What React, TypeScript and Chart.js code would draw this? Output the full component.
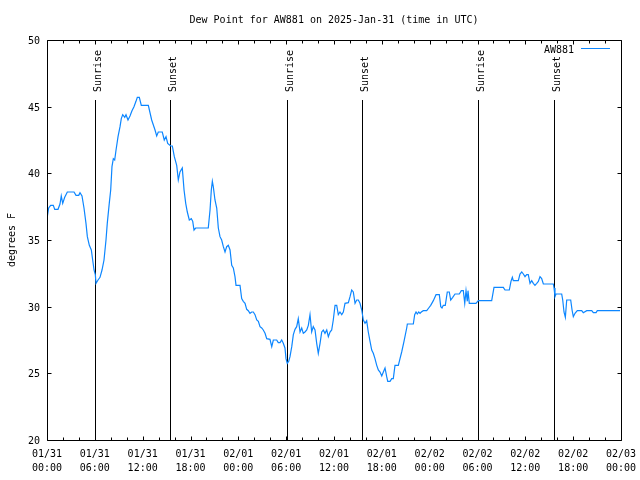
import { useEffect, useRef } from "react";
import { Chart, registerables } from "chart.js";

Chart.register(...registerables);

const TITLE = "Dew Point for AW881 on 2025-Jan-31 (time in UTC)";
const Y_TITLE = "degrees F";
const SERIES_NAME = "AW881";
const LINE_COLOR = "#0c86ff";
const FONT = "10px 'DejaVu Sans Mono', 'Liberation Mono', monospace";

// hours since 2025-01-31 00:00 UTC
const HOURS = [
  0, 0.21, 0.46, 0.79, 0.97, 1.38, 1.63, 1.79, 1.97, 2.22,
  2.38, 2.55, 3.39, 3.64, 3.98, 4.14, 4.39, 4.64, 4.89, 5.06,
  5.31, 5.56, 5.73, 5.9, 6.06, 6.15, 6.4, 6.65, 6.9, 7.15,
  7.4, 7.56, 7.81, 7.99, 8.15, 8.32, 8.49, 8.66, 8.91, 9.16,
  9.32, 9.5, 9.75, 9.91, 10.16, 10.41, 10.66, 10.91, 11.16, 11.33,
  11.58, 11.83, 12.71, 13.13, 13.55, 13.76, 13.96, 14.46, 14.71, 14.93,
  15.14, 15.52, 15.72, 15.97, 16.27, 16.47, 16.68, 16.97, 17.19, 17.4,
  17.6, 17.85, 18.1, 18.28, 18.44, 18.65, 20.23, 20.45, 20.61, 20.74,
  20.86, 21.07, 21.29, 21.49, 21.7, 21.91, 22.12, 22.33, 22.54, 22.74,
  22.96, 23.17, 23.37, 23.58, 23.71, 24.21, 24.42, 24.62, 24.84, 25.05,
  25.25, 25.46, 25.68, 25.88, 26.09, 26.31, 26.51, 26.72, 26.93, 27.13,
  27.35, 27.56, 27.97, 28.19, 28.39, 28.81, 29.01, 29.23, 29.44, 29.64,
  29.85, 29.98, 30.14, 30.32, 30.48, 30.7, 30.9, 31.11, 31.32, 31.52,
  31.74, 31.95, 32.15, 32.36, 32.58, 32.78, 32.99, 33.2, 33.4, 33.62,
  33.83, 34.03, 34.25, 34.46, 34.66, 34.87, 35.09, 35.29, 35.5, 35.71,
  35.91, 36.13, 36.34, 36.54, 36.75, 36.97, 37.17, 37.38, 37.8, 38.01,
  38.22, 38.42, 38.64, 38.85, 39.05, 39.26, 39.48, 39.68, 39.89, 40.1,
  40.3, 40.52, 40.73, 40.93, 41.14, 41.36, 41.56, 41.77, 41.99, 42.19,
  42.4, 42.61, 42.74, 43.03, 43.24, 43.44, 43.65, 44.07, 44.28, 44.49,
  44.78, 45.12, 45.2, 45.95, 46.12, 46.29, 46.45, 46.63, 46.79, 46.95,
  47.2, 47.63, 47.88, 48.13, 48.46, 48.8, 49.21, 49.39, 49.55, 49.71,
  49.96, 50.21, 50.46, 50.64, 50.89, 51.18, 51.72, 51.97, 52.22, 52.4,
  52.56, 52.72, 52.81, 52.97, 53.81, 54.1, 55.78, 56.07, 57.24, 57.45,
  57.99, 58.2, 58.37, 58.49, 59.12, 59.33, 59.55, 59.75, 59.96, 60.17,
  60.37, 60.59, 60.8, 61.0, 61.21, 61.43, 61.63, 61.84, 62.05, 62.26,
  63.51, 63.6, 63.72, 63.85, 64.56, 64.69, 64.85, 65.02, 65.19, 65.69,
  65.86, 66.02, 66.23, 66.52, 67.07, 67.27, 67.7, 68.33, 68.53, 68.87,
  69.03, 71.88,
];

const DEW_POINT = [
  36.6, 37.4, 37.6, 37.6, 37.3, 37.3, 37.7, 38.3, 37.75, 38.2,
  38.4, 38.6, 38.6, 38.35, 38.35, 38.55, 38.3, 37.4, 36.25, 35.25,
  34.6, 34.25, 33.5, 32.75, 32.4, 31.75, 32.0, 32.2, 32.75, 33.5,
  35.0, 36.25, 37.75, 38.75, 40.5, 41.1, 41.0, 41.75, 42.75, 43.5,
  44.1, 44.4, 44.2, 44.4, 44.0, 44.3, 44.7, 45.0, 45.4, 45.7,
  45.7, 45.1, 45.1, 44.0, 43.25, 42.8, 43.1, 43.1, 42.5, 42.75,
  42.25, 42.05, 42.05, 41.25, 40.6, 39.5, 40.1, 40.4, 38.75, 37.75,
  37.1, 36.5, 36.6, 36.4, 35.75, 35.9, 35.9, 37.25, 38.75, 39.4,
  39.0, 38.0, 37.4, 35.9, 35.25, 35.0, 34.5, 34.1, 34.5, 34.6,
  34.25, 33.1, 32.9, 32.25, 31.6, 31.6, 30.6, 30.4, 30.25, 29.8,
  29.7, 29.5, 29.6, 29.6, 29.4, 29.0, 28.9, 28.5, 28.4, 28.25,
  28.0, 27.6, 27.55, 27.0, 27.5, 27.5, 27.3, 27.3, 27.5, 27.25,
  26.9, 26.1, 25.75, 25.9, 26.25, 27.0, 27.9, 28.3, 28.5, 29.1,
  28.1, 28.4, 28.0, 28.1, 28.25, 28.6, 29.4, 28.1, 28.5, 28.25,
  27.25, 26.5, 27.25, 28.1, 28.25, 28.0, 28.25, 27.75, 28.1, 28.25,
  29.0, 30.1, 30.1, 29.4, 29.6, 29.4, 29.6, 30.25, 30.3, 30.75,
  31.25, 31.1, 30.25, 30.5, 30.5, 30.25, 29.75, 29.0, 28.75, 28.95,
  28.1, 27.4, 26.75, 26.5, 26.1, 25.6, 25.25, 25.1, 24.8, 25.1,
  25.4, 24.75, 24.4, 24.4, 24.6, 24.6, 25.6, 25.6, 26.1, 26.6,
  27.4, 28.4, 28.7, 28.7, 29.4, 29.6, 29.45, 29.6, 29.5, 29.6,
  29.7, 29.7, 29.9, 30.1, 30.45, 30.9, 30.9, 30.0, 29.9, 30.1,
  30.1, 31.1, 31.1, 30.5, 30.7, 30.95, 30.95, 31.2, 31.2, 30.25,
  31.2, 30.4, 31.2, 30.25, 30.25, 30.45, 30.45, 31.45, 31.45, 31.25,
  31.25, 31.9, 32.2, 31.95, 31.95, 32.45, 32.6, 32.45, 32.25, 32.4,
  32.4, 31.75, 31.95, 31.75, 31.6, 31.75, 31.9, 32.25, 32.1, 31.7,
  31.7, 31.4, 30.75, 30.95, 30.95, 30.5, 29.6, 29.2, 30.5, 30.5,
  29.75, 29.25, 29.5, 29.7, 29.7, 29.55, 29.7, 29.7, 29.55, 29.55,
  29.7, 29.7,
];

const X_MIN = 0;
const X_MAX = 72;
const Y_MIN = 20;
const Y_MAX = 50;
const X_TICKS = [0, 6, 12, 18, 24, 30, 36, 42, 48, 54, 60, 66, 72];
const X_TICK_LABELS = [
  ["01/31", "00:00"], ["01/31", "06:00"], ["01/31", "12:00"], ["01/31", "18:00"],
  ["02/01", "00:00"], ["02/01", "06:00"], ["02/01", "12:00"], ["02/01", "18:00"],
  ["02/02", "00:00"], ["02/02", "06:00"], ["02/02", "12:00"], ["02/02", "18:00"],
  ["02/03", "00:00"],
];
const X_MINOR_STEP = 2;
const Y_TICKS = [20, 25, 30, 35, 40, 45, 50];

const EVENT_HOURS = [6.05, 15.45, 30.05, 39.5, 54.05, 63.55];
const EVENT_LABELS = ["Sunrise", "Sunset", "Sunrise", "Sunset", "Sunrise", "Sunset"];
const EVENT_TOP = 45.5;

const crisp = (v: number) => Math.round(v) + 0.5;

const gnuplotDecor = {
  id: "gnuplotDecor",
  beforeDatasetsDraw(chart: any) {
    const { ctx, chartArea } = chart;
    const xs = chart.scales.x;
    const ys = chart.scales.y;
    ctx.save();
    ctx.strokeStyle = "#000";
    ctx.lineWidth = 1;
    // event lines
    EVENT_HOURS.forEach((h) => {
      const px = crisp(xs.getPixelForValue(h));
      ctx.beginPath();
      ctx.moveTo(px, ys.getPixelForValue(EVENT_TOP));
      ctx.lineTo(px, ys.getPixelForValue(Y_MIN));
      ctx.stroke();
    });
    ctx.restore();
  },
  afterDraw(chart: any) {
    const { ctx, chartArea } = chart;
    const xs = chart.scales.x;
    const ys = chart.scales.y;
    const L = crisp(chartArea.left);
    const R = crisp(chartArea.right);
    const T = crisp(chartArea.top);
    const B = crisp(chartArea.bottom);
    ctx.save();
    ctx.strokeStyle = "#000";
    ctx.fillStyle = "#000";
    ctx.lineWidth = 1;
    ctx.font = FONT;

    // border
    ctx.beginPath();
    ctx.rect(L, T, R - L, B - T);
    ctx.stroke();

    // x ticks (major + minor), inward on bottom and top
    ctx.beginPath();
    for (let h = X_MIN; h <= X_MAX; h += X_MINOR_STEP) {
      const px = crisp(xs.getPixelForValue(h));
      const len = X_TICKS.includes(h) ? 4 : 3;
      ctx.moveTo(px, B);
      ctx.lineTo(px, B - len);
      ctx.moveTo(px, T);
      ctx.lineTo(px, T + len);
    }
    // y ticks, inward on left and right
    Y_TICKS.forEach((v) => {
      const py = crisp(ys.getPixelForValue(v));
      ctx.moveTo(L, py);
      ctx.lineTo(L + 4, py);
      ctx.moveTo(R, py);
      ctx.lineTo(R - 4, py);
    });
    ctx.stroke();

    // y tick labels
    ctx.textAlign = "right";
    ctx.textBaseline = "alphabetic";
    Y_TICKS.forEach((v) => {
      const py = ys.getPixelForValue(v);
      ctx.fillText(String(v), chartArea.left - 7, py + 4);
    });

    // x tick labels
    ctx.textAlign = "center";
    X_TICKS.forEach((h, i) => {
      const px = xs.getPixelForValue(h);
      const [l1, l2] = X_TICK_LABELS[i];
      ctx.fillText(l1, px, chartArea.bottom + 17);
      ctx.fillText(l2, px, chartArea.bottom + 31);
    });

    // title
    ctx.textAlign = "center";
    ctx.fillText(TITLE, (chartArea.left + chartArea.right) / 2, 23);

    // y axis title
    ctx.save();
    ctx.translate(15, (chartArea.top + chartArea.bottom) / 2);
    ctx.rotate(-Math.PI / 2);
    ctx.textAlign = "center";
    ctx.fillText(Y_TITLE, 0, 0);
    ctx.restore();

    // event labels
    EVENT_HOURS.forEach((h, i) => {
      const px = xs.getPixelForValue(h);
      ctx.save();
      ctx.translate(px + 6, ys.getPixelForValue(EVENT_TOP) - 8);
      ctx.rotate(-Math.PI / 2);
      ctx.textAlign = "left";
      ctx.fillText(EVENT_LABELS[i], 0, 0);
      ctx.restore();
    });

    // legend
    ctx.textAlign = "right";
    ctx.fillText(SERIES_NAME, chartArea.right - 47, chartArea.top + 13);
    ctx.strokeStyle = LINE_COLOR;
    ctx.beginPath();
    ctx.moveTo(chartArea.right - 40, crisp(chartArea.top + 8));
    ctx.lineTo(chartArea.right - 11, crisp(chartArea.top + 8));
    ctx.stroke();

    ctx.restore();
  },
};

export default function App() {
  const canvasRef = useRef<HTMLCanvasElement | null>(null);

  useEffect(() => {
    if (!canvasRef.current) return;
    const data = HOURS.map((h, i) => ({ x: h, y: DEW_POINT[i] }));
    const chart = new Chart(canvasRef.current, {
      type: "line",
      data: {
        datasets: [
          {
            label: SERIES_NAME,
            data,
            borderColor: LINE_COLOR,
            borderWidth: 1.2,
            pointRadius: 0,
            tension: 0,
            fill: false,
          },
        ],
      },
      options: {
        responsive: false,
        animation: false,
        devicePixelRatio: 1,
        layout: { padding: { left: 47, top: 40, right: 19, bottom: 40 } },
        plugins: {
          legend: { display: false },
          title: { display: false },
          tooltip: { enabled: false },
        },
        scales: {
          x: { type: "linear", min: X_MIN, max: X_MAX, display: false },
          y: { type: "linear", min: Y_MIN, max: Y_MAX, display: false },
        },
      },
      plugins: [gnuplotDecor],
    });
    return () => chart.destroy();
  }, []);

  return (
    <div style={{ position: "absolute", left: 0, top: 0, width: 640, height: 480, background: "#fff" }}>
      <canvas ref={canvasRef} width={640} height={480} />
    </div>
  );
}
